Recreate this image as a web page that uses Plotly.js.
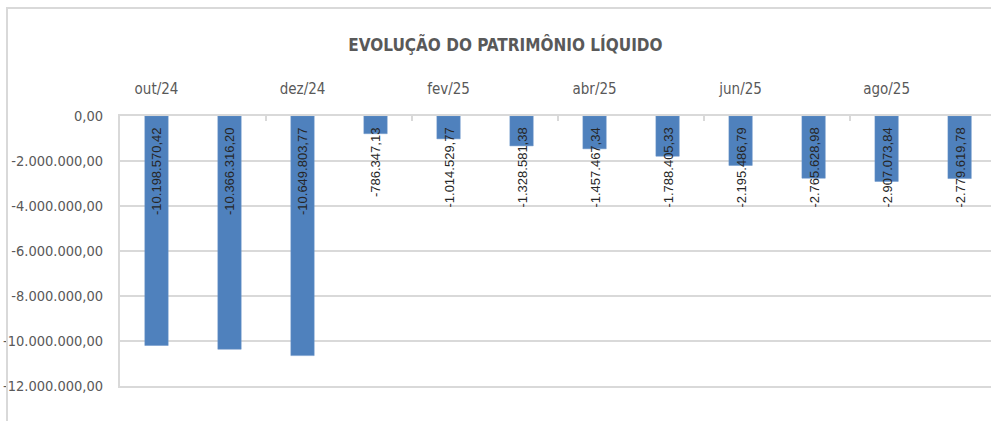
<!DOCTYPE html>
<html>
<head>
<meta charset="utf-8">
<script src="https://cdn.plot.ly/plotly-3.0.1.min.js"></script>
<style>
  html, body { margin: 0; padding: 0; background: #ffffff; }
  #chart { position: absolute; left: 0; top: 0; width: 991px; height: 421px; }
  #frame { position: absolute; left: 6px; top: 7px; width: 1200px; height: 600px;
           border: 2px solid #d9d9d9; pointer-events: none; z-index: 10; }
</style>
</head>
<body>
<div id="chart"></div>
<div id="frame"></div>
<script>
const months = ["out/24","nov/24","dez/24","jan/25","fev/25","mar/25","abr/25","mai/25","jun/25","jul/25","ago/25","set/25"];
const patrimonio = [-10198570.42,-10366316.20,-10649803.77,-786347.13,-1014529.77,-1328581.38,-1457467.34,-1788405.33,-2195486.79,-2765628.98,-2907073.84,-2779619.78];
const yTickVals = [0,-2000000,-4000000,-6000000,-8000000,-10000000,-12000000];
const yTickText = ["0,00","-2.000.000,00","-4.000.000,00","-6.000.000,00","-8.000.000,00","-10.000.000,00","-12.000.000,00"];
const chartTitle = "EVOLUÇÃO DO PATRIMÔNIO LÍQUIDO";

function fmtBR(v) {
  const neg = v < 0;
  const a = Math.abs(v).toFixed(2);
  let [ip, dp] = a.split(".");
  ip = ip.replace(/\B(?=(\d{3})+(?!\d))/g, ".");
  return (neg ? "-" : "") + ip + "," + dp;
}

const narrow = '"Liberation Sans Narrow", "DejaVu Sans Condensed", "Liberation Sans", sans-serif';

const trace = {
  type: "bar",
  x: months,
  y: patrimonio,
  marker: { color: "#4f81bd", line: { color: "#6a95c9", width: 0.5 } },
  hoverinfo: "x+y"
};

const annotations = months.map((m, i) => ({
  x: m, y: 0, xref: "x", yref: "y",
  text: fmtBR(patrimonio[i]),
  showarrow: false,
  textangle: -90,
  xanchor: "center", yanchor: "top",
  yshift: -10,
  font: { family: '"Liberation Sans", Arial, sans-serif', size: 13, color: "#262626" }
}));

const layout = {
  width: 991, height: 421,
  margin: { l: 120, r: 0, t: 116, b: 35 },
  paper_bgcolor: "#ffffff",
  plot_bgcolor: "#ffffff",
  showlegend: false,
  bargap: 0.68,
  title: {
    text: "<b>" + chartTitle + "</b>",
    x: 0.51, xref: "container", xanchor: "center",
    y: 1 - 45 / 421, yref: "container", yanchor: "middle",
    font: { family: narrow, size: 17, color: "#595959" }
  },
  xaxis: {
    type: "category",
    side: "top",
    range: [-0.5, 11.43],
    dtick: 2,
    tickson: "boundaries",
    ticks: "inside", ticklen: 5, tickwidth: 2, tickcolor: "#d9d9d9",
    showgrid: false,
    showline: true, linecolor: "#d9d9d9", linewidth: 2,
    mirror: true,
    ticklabelstandoff: 14,
    tickfont: { family: narrow, size: 15, color: "#595959" },
    fixedrange: true
  },
  yaxis: {
    range: [-12000000, 0],
    tickmode: "array",
    tickvals: yTickVals,
    ticktext: yTickText,
    showgrid: true, gridcolor: "#d9d9d9", gridwidth: 2,
    zeroline: false,
    showline: true, linecolor: "#d9d9d9", linewidth: 2,
    ticks: "",
    ticklabelstandoff: 12,
    tickfont: { family: narrow, size: 14.5, color: "#595959" },
    fixedrange: true
  },
  annotations: annotations
};

Plotly.newPlot("chart", [trace], layout, { displayModeBar: false, staticPlot: true });
</script>
</body>
</html>
